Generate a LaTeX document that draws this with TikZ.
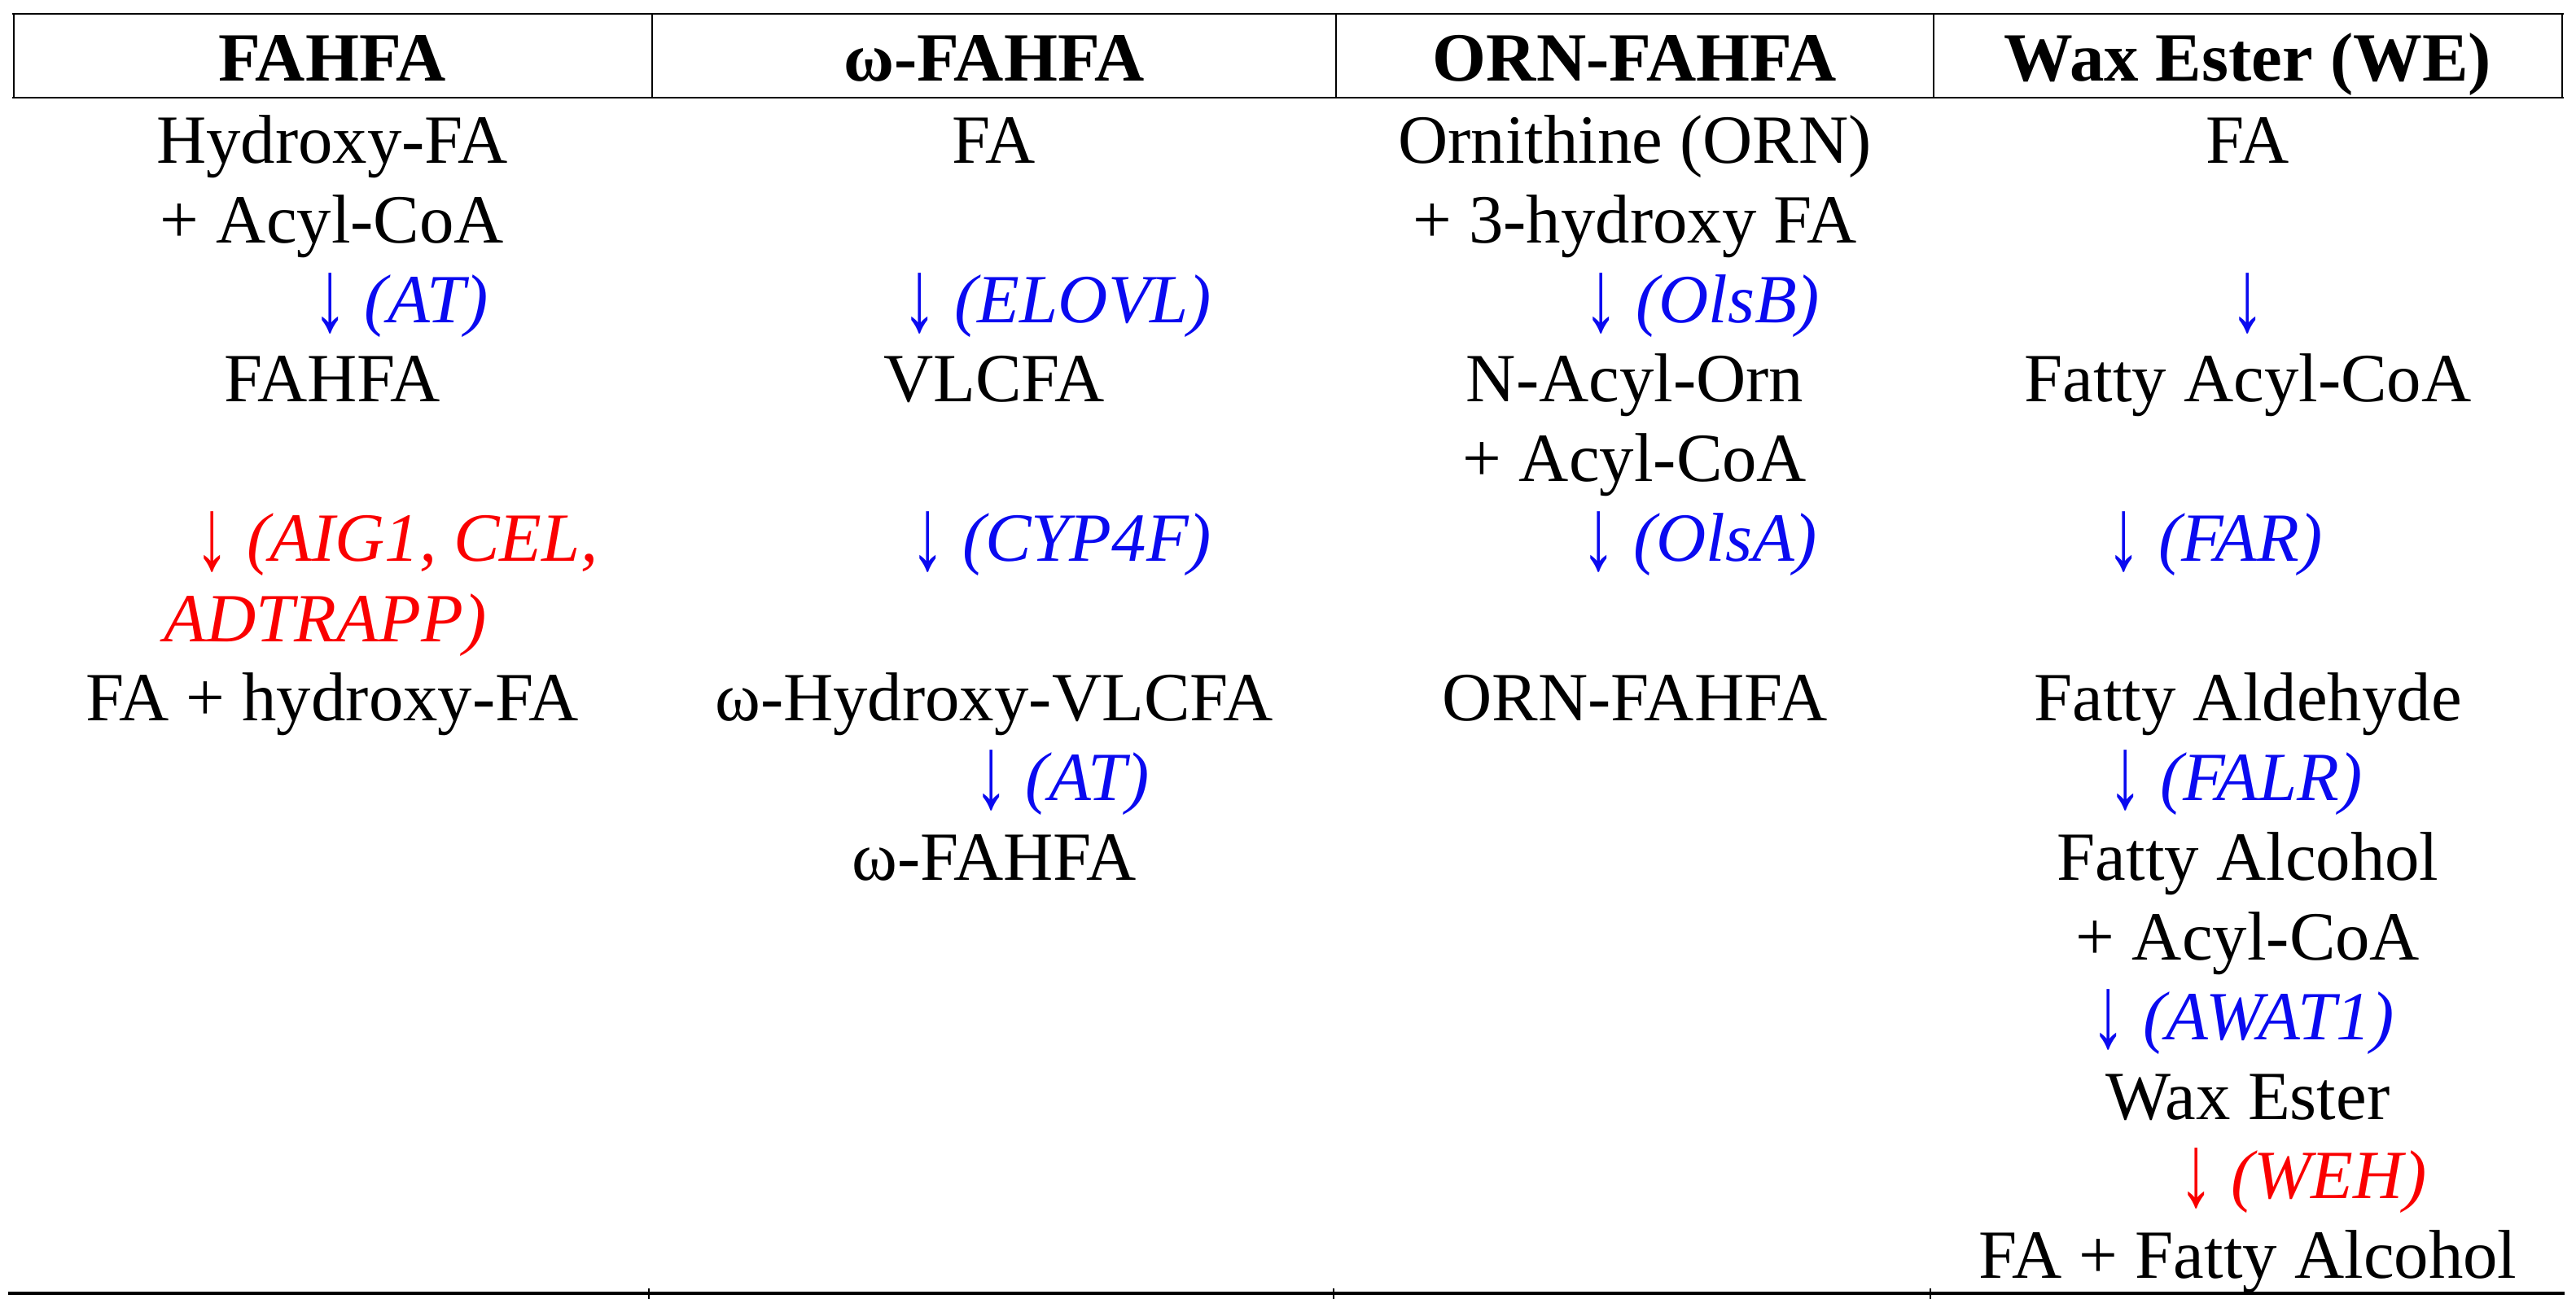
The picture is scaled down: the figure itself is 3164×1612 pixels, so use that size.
\documentclass[tikz,border=0pt]{standalone}
\usepackage{fontspec}
\usepackage{graphicx}
\setmainfont{Liberation Serif}
\definecolor{enzblue}{RGB}{10,10,240}
\definecolor{enzred}{RGB}{250,0,0}
\newcommand\mydarr{{\upshape\raisebox{-0.16em}{\resizebox*{\width}{0.88em}{\raisebox{\depth}{↓}}}}}
\begin{document}
\begin{tikzpicture}[x=0.25pt,y=-0.25pt,
  txt/.style={anchor=base,inner sep=0pt,font=\fontsize{21.2}{25}\selectfont},
  hdr/.style={anchor=base,inner sep=0pt,font=\fontsize{21.2}{25}\selectfont\bfseries},
  enz/.style={anchor=base east,inner sep=0pt,font=\fontsize{21.2}{25}\selectfont\itshape,text=enzblue},
  enzr/.style={enz,text=enzred},
  rule/.style={line width=0.6pt,line cap=rect},
  thickrule/.style={line width=0.9pt,line cap=rect},
  thinrule/.style={line width=0.45pt}]
\useasboundingbox (0,0) rectangle (3164,1612);
% table rules
\draw[rule] (16,17) -- (3148,17);
\draw[rule] (16,120) -- (3148,120);
\draw[thickrule] (12,1589) -- (3148,1589);
\foreach \xx in {17,801,1641,2375,3147} \draw[thinrule] (\xx,17) -- (\xx,120);
\foreach \xx in {797,1638,2371} \draw[thinrule] (\xx,1583) -- (\xx,1596);
% headers
\node[hdr] (h1) at (408,100) {FAHFA};
\node[hdr] (h2) at (1221,100) {ω-FAHFA};
\node[hdr] (h3) at (2008,100) {ORN-FAHFA};
\node[hdr] (h4) at (2761,100) {Wax Ester (WE)};
% column 1
\node[txt] (a1) at (408,201) {Hydroxy-FA};
\node[txt] (a2) at (408,299) {+ Acyl-CoA};
\node[enz] (a3) at (601,397) {\mydarr{} (AT)};
\node[txt] (a4) at (408,494) {FAHFA};
\node[enzr] (a5) at (735,690) {\mydarr{} (AIG1, CEL,};
\node[enzr] (a6) at (598,788) {ADTRAPP)};
\node[txt] (a7) at (408,886) {FA + hydroxy-FA};
% column 2
\node[txt] (b1) at (1221,201) {FA};
\node[enz] (b2) at (1489,397) {\mydarr{} (ELOVL)};
\node[txt] (b3) at (1221,494) {VLCFA};
\node[enz] (b4) at (1489,690) {\mydarr{} (CYP4F)};
\node[txt] (b5) at (1221,886) {ω-Hydroxy-VLCFA};
\node[enz] (b6) at (1413,983) {\mydarr{} (AT)};
\node[txt] (b7) at (1221,1081) {ω-FAHFA};
% column 3
\node[txt] (c1) at (2008,201) {Ornithine (ORN)};
\node[txt] (c2) at (2008,299) {+ 3-hydroxy FA};
\node[enz] (c3) at (2236,397) {\mydarr{} (OlsB)};
\node[txt] (c4) at (2008,494) {N-Acyl-Orn};
\node[txt] (c5) at (2008,592) {+ Acyl-CoA};
\node[enz] (c6) at (2233,690) {\mydarr{} (OlsA)};
\node[txt] (c7) at (2008,886) {ORN-FAHFA};
% column 4
\node[txt] (d1) at (2761,201) {FA};
\node[txt,text=enzblue] (d2) at (2761,397) {\mydarr};
\node[txt] (d3) at (2761,494) {Fatty Acyl-CoA};
\node[enz] (d4) at (2853,690) {\mydarr{} (FAR)};
\node[txt] (d5) at (2761,886) {Fatty Aldehyde};
\node[enz] (d6) at (2902,983) {\mydarr{} (FALR)};
\node[txt] (d7) at (2761,1081) {Fatty Alcohol};
\node[txt] (d8) at (2761,1179) {+ Acyl-CoA};
\node[enz] (d9) at (2941,1277) {\mydarr{} (AWAT1)};
\node[txt] (d10) at (2761,1375) {Wax Ester};
\node[enzr] (d11) at (2981,1472) {\mydarr{} (WEH)};
\node[txt] (d12) at (2761,1570) {FA + Fatty Alcohol};
\end{tikzpicture}
\end{document}
